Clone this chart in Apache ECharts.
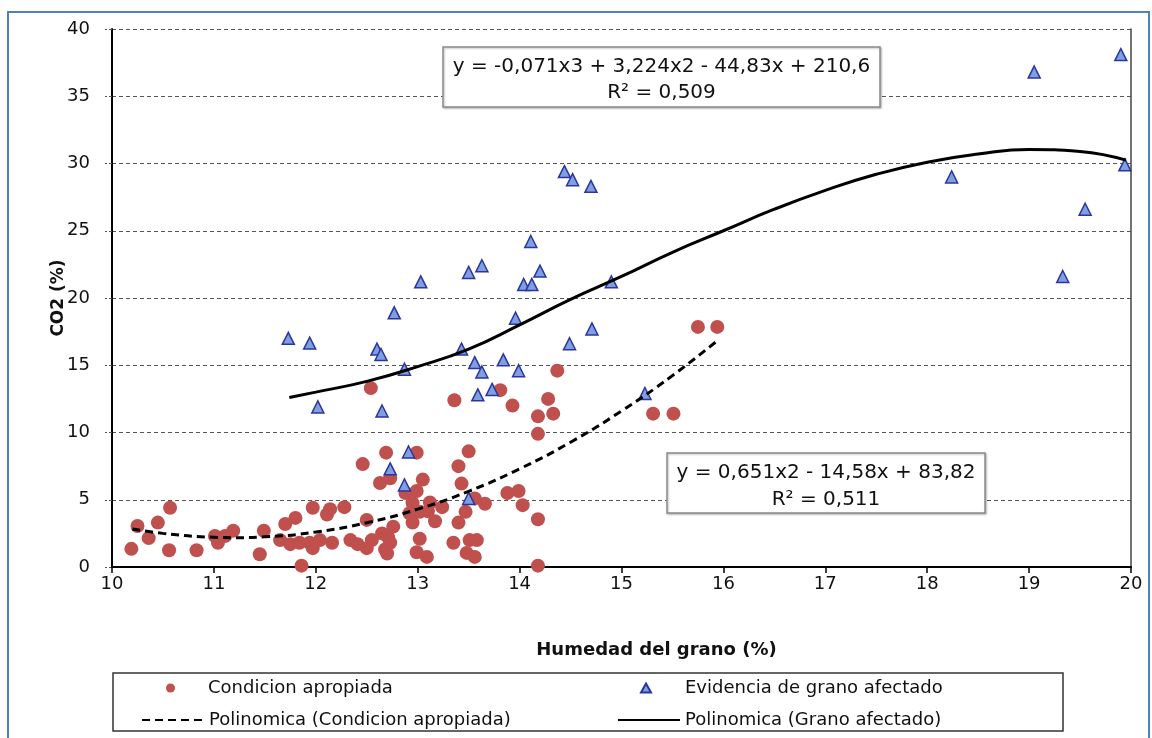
<!DOCTYPE html>
<html>
<head>
<meta charset="utf-8">
<script src="https://cdn.jsdelivr.net/npm/echarts@6/dist/echarts.min.js"></script>
<style>
html, body { margin: 0; padding: 0; background: #fff; }
#main { width: 1152px; height: 738px; }
</style>
</head>
<body>
<div id="main"></div>
<script>
// puntos "Condicion apropiada" (humedad %, CO2 %)
const condX = [10.19, 10.25, 10.36, 10.45, 10.56, 10.57, 10.83, 11.01, 11.04, 11.11, 11.19, 11.45, 11.49, 11.65, 11.70, 11.75,
    11.80, 11.84, 11.86, 11.94, 11.97, 11.97, 12.04, 12.11, 12.14, 12.16, 12.28, 12.34, 12.41, 12.46, 12.50, 12.50, 12.54,
    12.55, 12.63, 12.65, 12.68, 12.69, 12.70, 12.71, 12.73, 12.73, 12.76, 12.88, 12.92, 12.95, 12.95, 12.99, 12.99, 12.99,
    13.02, 13.02, 13.05, 13.09, 13.10, 13.12, 13.17, 13.24, 13.35, 13.36, 13.40, 13.40, 13.43, 13.47, 13.48, 13.50, 13.51,
    13.56, 13.56, 13.58, 13.66, 13.81, 13.88, 13.93, 13.99, 14.03, 14.18, 14.18, 14.18, 14.18, 14.28, 14.33, 14.37, 15.31,
    15.51, 15.75, 15.94];
const condY = [1.35, 3.05, 2.15, 3.3, 1.25, 4.4, 1.25, 2.3, 1.8, 2.3, 2.7, 0.95, 2.7, 2.0, 3.2, 1.7,
    3.65, 1.8, 0.1, 1.8, 1.4, 4.4, 2.0, 3.9, 4.3, 1.8, 4.45, 2.0, 1.7, 7.65, 1.4, 3.5, 13.3,
    2.0, 6.25, 2.5, 1.3, 8.5, 1.0, 2.2, 1.8, 6.6, 3.0, 5.5, 4.0, 4.75, 3.3, 8.5, 5.65, 1.1,
    4.1, 2.1, 6.5, 0.75, 4.15, 4.8, 3.4, 4.45, 1.8, 12.4, 7.5, 3.3, 6.2, 4.1, 1.05, 8.6, 2.0,
    5.1, 0.75, 2.0, 4.7, 13.15, 5.5, 12.0, 5.65, 4.6, 11.2, 9.9, 3.55, 0.1, 12.5, 11.4, 14.6, 11.4,
    11.4, 17.85, 17.85];

// puntos "Evidencia de grano afectado"
const afecX = [11.73, 11.94, 12.02, 12.60, 12.64, 12.65, 12.77, 12.87, 12.73, 12.87, 12.91, 13.03, 13.43, 13.50, 13.63,
    13.56, 13.63, 13.59, 13.73, 13.84, 13.50, 13.96, 13.99, 14.04, 14.12, 14.11, 14.20, 14.44, 14.52, 14.70, 14.71,
    14.49, 14.90, 15.23, 18.24, 19.05, 19.90, 19.94, 19.55, 19.33];
const afecY = [17.0, 16.65, 11.9, 16.2, 15.8, 11.6, 18.9, 14.7, 7.3, 6.1, 8.55, 21.2, 16.2, 21.9, 22.4,
    15.2, 14.5, 12.8, 13.2, 15.4, 5.1, 18.5, 14.6, 21.0, 21.0, 24.2, 22.0, 29.4, 28.8, 28.3, 17.7,
    16.6, 21.2, 12.9, 29.0, 36.8, 38.1, 29.9, 26.6, 21.6];

// lineas de tendencia
const tendCondX = [10.2, 10.5, 11.0, 11.2, 11.5, 12.0, 12.5, 13.0, 13.5, 14.0, 14.5, 15.0, 15.5, 15.95];
const tendCondY = [2.83, 2.50, 2.21, 2.18, 2.24, 2.60, 3.29, 4.30, 5.63, 7.30, 9.28, 11.60, 14.23, 16.89];
const tendAfecX = [11.74, 12.0, 12.5, 13.0, 13.5, 14.0, 14.5, 15.0, 15.5, 16.0, 16.5, 17.0, 17.5, 18.0, 18.5, 19.0, 19.5, 19.95];
const tendAfecY = [12.6, 13.0, 13.8, 14.9, 16.2, 18.0, 19.9, 21.6, 23.4, 25.0, 26.6, 28.0, 29.2, 30.1, 30.7, 31.05, 30.9, 30.25];

const xTicks = [10, 11, 12, 13, 14, 15, 16, 17, 18, 19, 20];
const yTicks = [0, 5, 10, 15, 20, 25, 30, 35, 40];

const nombres = ['Condicion apropiada', 'Evidencia de grano afectado',
    'Polinomica (Condicion apropiada)', 'Polinomica (Grano afectado)'];
const ecuacion1 = ['y = -0,071x3 + 3,224x2 - 44,83x + 210,6', 'R\u00b2 = 0,509'];
const ecuacion2 = ['y = 0,651x2 - 14,58x + 83,82', 'R\u00b2 = 0,511'];

function pares(xs, ys) {
    let arr = [];
    for (let i = 0; i < xs.length; i++) {
        arr.push([xs[i], ys[i]]);
    }
    return arr;
}

const FONT = '"DejaVu Sans", Verdana, sans-serif';

// una leyenda por entrada, para poder colocarlas en dos columnas
function leyenda(nombre, icono, left, top, w, h, textPad) {
    return {
        data: [{name: nombre, icon: icono}],
        left: left,
        top: top,
        itemWidth: w,
        itemHeight: h,
        itemGap: 0,
        padding: 0,
        selectedMode: false,
        textStyle: {fontFamily: FONT, fontSize: 18, color: '#111', padding: [0, 0, 0, textPad]}
    };
}

function cajaEcuacion(x1, y1, x2, y2, lineas, ya, yb) {
    let cx = (x1 + x2) / 2;
    return [
        {
            type: 'rect', z: 100,
            shape: {x: x1, y: y1, width: x2 - x1, height: y2 - y1},
            style: {fill: '#fff', stroke: '#8a8a8a', lineWidth: 1.5,
                shadowBlur: 2, shadowOffsetX: 1, shadowOffsetY: 1, shadowColor: 'rgba(0,0,0,0.25)'}
        },
        {
            type: 'text', z: 101, x: cx, y: ya,
            style: {text: lineas[0], fontFamily: FONT, fontSize: 20, fill: '#111', align: 'center', verticalAlign: 'middle'}
        },
        {
            type: 'text', z: 101, x: cx, y: yb,
            style: {text: lineas[1], fontFamily: FONT, fontSize: 20, fill: '#111', align: 'center', verticalAlign: 'middle'}
        }
    ];
}

const myChart = echarts.init(document.getElementById('main'));

let leyLineaCond = leyenda(nombres[2], undefined, 141, 711, 62, 16, 0);
let leyLineaAfec = leyenda(nombres[3], undefined, 617, 711, 62, 16, 0);
leyLineaCond.data = [nombres[2]];
leyLineaAfec.data = [nombres[3]];
// ocultar el simbolo que echarts pone en el icono de las lineas
leyLineaCond.itemStyle = {color: 'rgba(0,0,0,0)', borderColor: 'rgba(0,0,0,0)', borderWidth: 0, opacity: 0};
leyLineaAfec.itemStyle = {color: 'rgba(0,0,0,0)', borderColor: 'rgba(0,0,0,0)', borderWidth: 0, opacity: 0};

const option = {
    backgroundColor: '#fff',
    animation: false,
    grid: {left: 112, top: 29, right: 21, bottom: 171},
    xAxis: {
        type: 'value',
        min: xTicks[0],
        max: xTicks[xTicks.length - 1],
        interval: 1,
        name: 'Humedad del grano (%)',
        nameLocation: 'middle',
        nameGap: 74,
        nameTextStyle: {fontFamily: FONT, fontSize: 18, fontWeight: 'bold', color: '#111', padding: [0, 0, 0, 70]},
        axisLine: {onZero: false, lineStyle: {color: '#000', width: 2}},
        axisTick: {show: true, length: 6, lineStyle: {color: '#000', width: 1.5}},
        axisLabel: {fontFamily: FONT, fontSize: 18, color: '#111', margin: 8},
        splitLine: {show: false}
    },
    yAxis: [
        {
            type: 'value',
            min: yTicks[0],
            max: yTicks[yTicks.length - 1],
            interval: 5,
            name: 'CO2 (%)',
            nameLocation: 'middle',
            nameGap: 45,
            nameMoveOverlap: false,
            nameTextStyle: {fontFamily: FONT, fontSize: 17, fontWeight: 'bold', color: '#111'},
            axisLine: {show: true, lineStyle: {color: '#000', width: 2}},
            axisTick: {show: true, length: 7, lineStyle: {color: '#555', width: 1, type: [3, 2]}},
            axisLabel: {fontFamily: FONT, fontSize: 18, color: '#111', margin: 22},
            splitLine: {show: true, lineStyle: {color: '#555', width: 1.2, type: [4, 3]}}
        },
        {
            type: 'value',
            min: 0, max: 40, interval: 5,
            position: 'right',
            axisLine: {show: true, lineStyle: {color: '#444', width: 1.5}},
            axisTick: {show: false},
            axisLabel: {show: false},
            splitLine: {show: false}
        }
    ],
    legend: [
        leyenda(nombres[0], 'circle', 166, 679, 9, 9, 28),
        leyenda(nombres[1], 'triangle', 640, 679, 10, 9, 29),
        leyLineaCond,
        leyLineaAfec
    ],
    graphic: [
        {
            type: 'rect', z: -10, silent: true,
            shape: {x: 8, y: 12, width: 1141, height: 760},
            style: {fill: 'none', stroke: '#4f81bd', lineWidth: 2}
        },
        {
            type: 'rect', z: -5, silent: true,
            shape: {x: 113, y: 673, width: 950, height: 58},
            style: {fill: '#fff', stroke: '#333', lineWidth: 1.5}
        }
    ].concat(cajaEcuacion(443, 47, 880, 107, ecuacion1, 67, 93))
     .concat(cajaEcuacion(667, 453, 985, 513, ecuacion2, 473, 500)),
    series: [
        {
            name: nombres[0],
            type: 'scatter',
            data: pares(condX, condY),
            symbol: 'circle',
            symbolSize: 14,
            itemStyle: {color: '#c0504d', opacity: 1}
        },
        {
            name: nombres[1],
            type: 'scatter',
            data: pares(afecX, afecY),
            symbol: 'triangle',
            symbolSize: 12,
            itemStyle: {color: '#7f9fdf', borderColor: '#2b35a0', borderWidth: 1.5, opacity: 1}
        },
        {
            name: nombres[2],
            type: 'line',
            data: pares(tendCondX, tendCondY),
            smooth: true,
            symbol: 'none',
            itemStyle: {color: '#000'},
            lineStyle: {color: '#000', width: 3, type: [8, 5]}
        },
        {
            name: nombres[3],
            type: 'line',
            data: pares(tendAfecX, tendAfecY),
            smooth: true,
            symbol: 'none',
            itemStyle: {color: '#000'},
            lineStyle: {color: '#000', width: 3}
        }
    ]
};

myChart.setOption(option);
</script>
</body>
</html>
